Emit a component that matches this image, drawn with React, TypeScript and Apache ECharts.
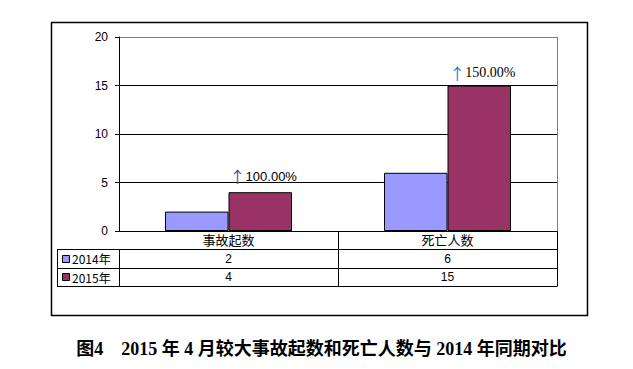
import React, { useEffect, useRef } from "react";
import * as echarts from "echarts";

const categories = ["事故起数", "死亡人数"];
const seriesNames = ["2014年", "2015年"];
const values2014 = [2, 6];
const values2015 = [4, 15];
const yTicks = [0, 5, 10, 15, 20];
const caption = "图4　2015 年 4 月较大事故起数和死亡人数与 2014 年同期对比";

const COLORS = ["#9999FF", "#993366"];
const W = 633;
const H = 369;
const G = { left: 119, right: 76, top: 37, bottom: 138 };

export default function App() {
  const ref = useRef<HTMLDivElement>(null);
  useEffect(() => {
    if (!ref.current) return;
    const chart = echarts.init(ref.current, undefined, { renderer: "svg" });
    const plotL = G.left;
    const plotR = W - G.right;
    const axisY = H - G.bottom;
    const n = categories.length;
    const cw = (plotR - plotL) / n;
    const rowH = 18.5;
    const headerBottom = axisY + 18;
    const tableLeft = 57;
    const rows = [values2014, values2015];
    const lineStyle = { stroke: "#000", lineWidth: 1 };
    const graphics: any[] = [];
    // outer frame
    graphics.push({
      type: "rect",
      shape: { x: 51.5, y: 22.5, width: 536, height: 293 },
      style: { fill: "none", stroke: "#000", lineWidth: 1.5 },
      silent: true,
    });
    // table horizontal lines
    for (let r = 0; r <= rows.length; r++) {
      const y = Math.round(headerBottom + r * rowH) + 0.5;
      graphics.push({ type: "line", shape: { x1: tableLeft, y1: y, x2: plotR, y2: y }, style: lineStyle });
    }
    const tableBottom = Math.round(headerBottom + rows.length * rowH) + 0.5;
    // vertical lines
    graphics.push({ type: "line", shape: { x1: tableLeft + 0.5, y1: headerBottom + 0.5, x2: tableLeft + 0.5, y2: tableBottom }, style: lineStyle });
    graphics.push({ type: "line", shape: { x1: plotL + 0.5, y1: headerBottom + 0.5, x2: plotL + 0.5, y2: tableBottom }, style: lineStyle });
    for (let i = 1; i <= n; i++) {
      const x = Math.round(plotL + i * cw) + 0.5;
      graphics.push({ type: "line", shape: { x1: x, y1: axisY, x2: x, y2: tableBottom }, style: lineStyle });
    }
    // rows
    rows.forEach((vals, r) => {
      const yc = headerBottom + (r + 0.5) * rowH + 0.5;
      graphics.push({
        type: "rect",
        shape: { x: 62.5, y: Math.round(yc - 4) + 0.5, width: 7, height: 7 },
        style: { fill: COLORS[r], stroke: "#000", lineWidth: 1 },
      });
      graphics.push({
        type: "text",
        x: 72,
        y: yc,
        style: { text: seriesNames[r], fill: "#000", font: "12px 'Noto Sans CJK SC', 'Liberation Sans'", verticalAlign: "middle", align: "left" },
      });
      vals.forEach((v, i) => {
        graphics.push({
          type: "text",
          x: plotL + (i + 0.5) * cw,
          y: yc,
          style: { text: String(v), fill: "#000", font: "12px 'Liberation Sans', Arial", verticalAlign: "middle", align: "center" },
        });
      });
    });
    graphics.push({
      type: "text",
      x: W / 2 + 5,
      y: 349,
      style: { text: caption, fill: "#000", font: "bold 18px 'Liberation Serif', 'Noto Sans CJK SC'", align: "center", verticalAlign: "middle" },
    });

    const changes = values2015.map((v, i) => (((v - values2014[i]) / values2014[i]) * 100).toFixed(2) + "%");
    const fonts = ["'Liberation Sans', Arial", "'Liberation Serif', 'Times New Roman'"];

    chart.setOption({
      animation: false,
      grid: { left: G.left, right: G.right, top: G.top, bottom: G.bottom },
      xAxis: {
        type: "category",
        data: categories,
        axisLine: { show: true, lineStyle: { color: "#000", width: 1 } },
        axisTick: { show: false },
        axisLabel: { color: "#000", fontSize: 13, fontFamily: "'Noto Sans CJK SC'", margin: 2 },
        splitLine: { show: false },
      },
      yAxis: [
        {
          type: "value",
          min: yTicks[0],
          max: yTicks[yTicks.length - 1],
          interval: yTicks[1] - yTicks[0],
          axisLine: { show: true, lineStyle: { color: "#000", width: 1 } },
          axisTick: { show: true, length: 4, lineStyle: { color: "#000" } },
          axisLabel: { color: "#000", fontSize: 12, fontFamily: "'Liberation Sans', Arial", margin: 11 },
          splitLine: { show: true, lineStyle: { color: ["#000", "#000", "#000", "#000", "#808080"], width: 1 } },
        },
        {
          type: "value",
          position: "right",
          min: yTicks[0],
          max: yTicks[yTicks.length - 1],
          interval: yTicks[1] - yTicks[0],
          axisLine: { show: true, lineStyle: { color: "#808080", width: 1 } },
          axisTick: { show: false },
          axisLabel: { show: false },
          splitLine: { show: false },
        },
      ],
      series: [
        {
          name: seriesNames[0],
          type: "bar",
          data: values2014,
          barGap: "0%",
          barCategoryGap: "42%",
          itemStyle: { color: COLORS[0], borderColor: "#000", borderWidth: 1 },
        },
        {
          name: seriesNames[1],
          type: "bar",
          data: values2015.map((v, i) => ({
            value: v,
            label: {
              show: true,
              position: "top",
              distance: i === 0 ? 8 : 5,
              formatter: "{a|↑}{b|" + changes[i] + "}",
              rich: {
                a: { color: i === 0 ? "#6a3f8a" : "#1f7fd0", fontSize: 16, fontFamily: "'Noto Sans CJK SC'" },
                b: { color: "#000", fontSize: i === 0 ? 13 : 14, fontFamily: fonts[i] },
              },
              offset: [3, 0],
            },
          })),
          barGap: "0%",
          barCategoryGap: "42%",
          itemStyle: { color: COLORS[1], borderColor: "#000", borderWidth: 1 },
        },
      ],
      graphic: graphics,
    });
    return () => chart.dispose();
  }, []);
  return <div ref={ref} style={{ position: "fixed", left: 0, top: 0, width: W, height: H, background: "#fff" }} />;
}
